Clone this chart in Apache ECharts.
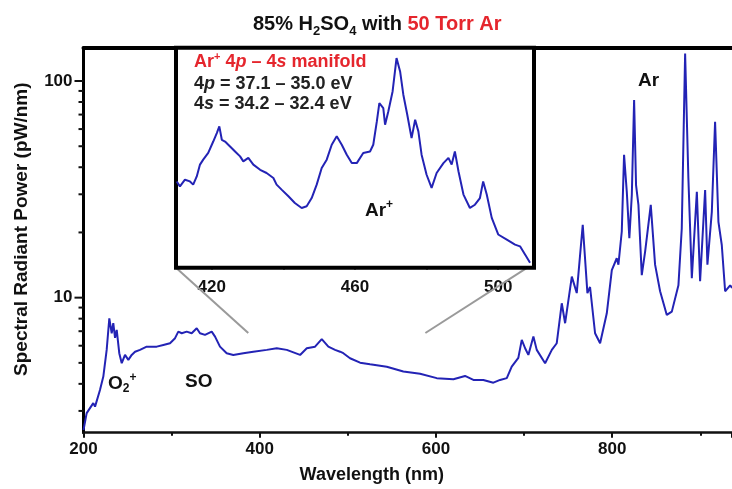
<!DOCTYPE html>
<html><head><meta charset="utf-8">
<script src="https://cdn.jsdelivr.net/npm/echarts@6/dist/echarts.min.js"></script>
<style>html,body{margin:0;padding:0;background:#fff}#c{width:732px;height:489px}</style>
</head><body><div id="c"></div>
<script>
// ---- data ----
const wavelength = [200,203.6,211.1,213.1,218.7,222.5,226.3,229.3,232.0,233.8,235.8,237.7,240.6,243.4,247.1,250.9,254.7,258.5,264.1,271.7,283.1,290.6,298.2,303.9,307.6,311.5,317.1,322.8,328.5,332.2,337.9,345.5,349.3,354.9,362.5,370.0,381.4,392.7,408.0,419.3,430.7,445.8,453.4,462.8,470.4,477.9,485.5,491.2,494.9,502.5,513.9,525.2,544.2,563.0,582.0,600.9,619.8,633.0,642.5,653.8,665.2,672.8,680.4,686.0,687.9,693.5,697.4,701.2,704.9,710.6,714.4,723.9,731.5,737.1,742.8,746.6,754.2,759.8,766.6,771.9,774.9,780.6,786.3,793.9,799.6,805.2,807.1,810.9,813.5,816.6,819.5,822.3,824.9,827.1,829.8,833.6,837.4,843.8,848.7,854.4,862.0,867.7,875.2,879.0,882.8,886.5,890.4,896.1,899.8,905.5,908.1,913.1,916.8,920.6,924.4,928.2,933.9,936.1];
const power = [2.45,2.93,3.26,3.14,3.75,4.32,5.74,8.03,6.85,7.62,6.52,7.10,5.54,4.98,5.44,5.16,5.44,5.63,5.74,5.94,5.94,6.05,6.16,6.50,6.97,6.85,6.97,6.85,7.22,6.85,6.73,6.97,6.61,5.94,5.54,5.44,5.54,5.63,5.74,5.84,5.74,5.44,5.84,5.94,6.43,5.94,5.74,5.63,5.54,5.25,5.01,4.93,4.80,4.56,4.45,4.25,4.20,4.35,4.17,4.17,4.05,4.17,4.25,4.80,4.89,5.27,6.38,5.84,5.44,6.61,5.74,4.98,5.74,6.16,9.42,7.62,12.5,10.5,21.7,10.5,11.2,6.85,6.16,8.47,13.4,15.2,14.2,20.2,45.6,30.8,18.8,29.8,81.7,33.1,26.8,12.7,16.3,26.8,14.2,10.7,8.32,8.62,11.4,20.9,134,35.6,12.3,30.8,11.9,31.4,14.2,24.9,64.9,22.4,17.5,10.7,11.4,11.1];

const insetWavelength = [410.2,411.1,412.5,413.9,414.8,415.8,416.7,417.6,419.0,420.4,421.4,422.1,422.8,423.7,425.1,426.5,427.9,428.8,430.2,431.6,433.5,435.3,437.2,438.1,439.5,441.4,443.2,445.1,446.5,447.9,449.3,450.7,452.1,453.5,454.9,456.3,457.7,459.1,460.5,462.3,464.2,465.1,466.1,466.8,467.9,468.4,469.3,470.5,471.6,472.6,473.5,474.6,475.8,476.8,477.7,478.6,480.0,481.4,482.8,484.7,486.1,487.0,487.9,488.9,490.3,492.1,493.5,494.9,495.8,496.8,498.2,500.0,502.4,504.7,506.1,507.5,508.9];
const insetIntensity = [39.0,36.7,39.8,39.0,37.5,41.3,46.8,49.1,52.2,57.5,61.4,64.5,58.3,57.5,55.2,52.9,50.6,48.3,49.9,46.8,44.4,42.9,40.6,37.5,35.2,32.1,29.0,26.7,27.5,31.3,37.5,45.2,49.1,56.0,59.9,56.0,51.4,47.5,47.5,52.2,52.9,56.0,66.8,75.3,73.0,65.3,71.4,80.7,96.2,90.0,79.2,69.9,59.1,67.6,62.2,51.4,42.1,36.0,42.9,47.5,49.9,46.8,52.9,43.7,32.9,26.7,28.2,31.3,39.0,32.9,22.1,14.4,12.0,9.7,8.9,5.1,1.3];

const xTickValues = [200, 400, 600, 800];
const yMajorTicks = [10, 100];
const yMinorTicks = [3,4,5,6,7,8,9,20,30,40,50,60,70,80,90];
const insetTickLabels = [420, 460, 500];

// ---- chart ----
const FONT = 'Liberation Sans, Arial, sans-serif';
const BLUE = '#2323b5';
const RED = '#e5262d';
const chart = echarts.init(document.getElementById('c'));

const mainData = wavelength.map((w, i) => [w, power[i]]);
const insetData = insetWavelength.map((w, i) => [w, insetIntensity[i]]);

chart.setOption({
  animation: false,
  backgroundColor: '#fff',
  title: {
    left: 248, top: 9,
    text: '{b|85% H}{s|2}{b|SO}{s|4}{b| with }{r|50 Torr Ar}',
    textStyle: {
      rich: {
        b: {fontFamily: FONT, fontWeight: 'bold', fontSize: 20, color: '#111', lineHeight: 24, verticalAlign: 'top'},
        s: {fontFamily: FONT, fontWeight: 'bold', fontSize: 13, color: '#111', lineHeight: 24, verticalAlign: 'bottom'},
        r: {fontFamily: FONT, fontWeight: 'bold', fontSize: 20, color: RED, lineHeight: 24, verticalAlign: 'top'}
      }
    }
  },
  grid: [
    {left: 83.5, right: 0, top: 47.7, bottom: 56.3},
    {left: 176, top: 47.7, width: 358, height: 220, show: true, borderColor: '#000', borderWidth: 4, backgroundColor: '#fff', z: 5}
  ],
  xAxis: [
    {
      type: 'value', gridIndex: 0, min: 200, max: 936, interval: 200,
      name: 'Wavelength (nm)', nameLocation: 'middle', nameGap: 33,
      nameTextStyle: {fontFamily: FONT, fontWeight: 'bold', fontSize: 18, color: '#111', padding: [0, 72, 0, 0]},
      axisLine: {show: true, lineStyle: {color: '#111', width: 2.5}},
      axisTick: {show: true, length: 5, lineStyle: {color: '#111', width: 2}},
      minorTick: {show: true, splitNumber: 2, length: 3, lineStyle: {color: '#111', width: 2}},
      splitLine: {show: false},
      axisLabel: {
        fontFamily: FONT, fontWeight: 'bold', fontSize: 17, color: '#111', margin: 8,
        showMaxLabel: false,
        formatter: v => xTickValues.includes(Math.round(v)) ? String(Math.round(v)) : ''
      }
    },
    {
      type: 'value', gridIndex: 0, position: 'top', min: 200, max: 936,
      axisLine: {show: true, onZero: false, lineStyle: {color: '#000', width: 4}},
      axisTick: {show: false}, axisLabel: {show: false}, splitLine: {show: false}
    },
    {
      type: 'value', gridIndex: 1, min: 410, max: 510, splitNumber: 5,
      axisLine: {show: false},
      axisTick: {show: true, length: 4, lineStyle: {color: '#000', width: 2}},
      splitLine: {show: false},
      axisLabel: {
        fontFamily: FONT, fontWeight: 'bold', fontSize: 17, color: '#111', margin: 11,
        showMinLabel: false, showMaxLabel: false,
        formatter: v => insetTickLabels.includes(Math.round(v)) ? String(Math.round(v)) : ''
      }
    }
  ],
  yAxis: [
    {
      type: 'log', gridIndex: 0, logBase: 10, min: 2.38, max: 142.5,
      name: 'Spectral Radiant Power (pW/nm)', nameLocation: 'middle', nameGap: 52,
      nameTextStyle: {fontFamily: FONT, fontWeight: 'bold', fontSize: 19, color: '#111', padding: [0, 0, 0, 22]},
      axisLine: {show: true, lineStyle: {color: '#000', width: 3}},
      axisTick: {show: false},
      splitLine: {show: false},
      axisLabel: {
        fontFamily: FONT, fontWeight: 'bold', fontSize: 17, color: '#111', margin: 11,
        showMinLabel: false, showMaxLabel: false,
        formatter: v => {
          const r = Math.round(v);
          return (yMajorTicks.includes(r) && Math.abs(v - r) < 0.01 * r) ? String(r) : '';
        }
      }
    },
    {type: 'value', gridIndex: 1, min: -1, max: 101, show: false}
  ],
  series: [
    {
      type: 'line', xAxisIndex: 0, yAxisIndex: 0, data: mainData,
      showSymbol: false, symbol: 'none', lineStyle: {color: BLUE, width: 2}, z: 3
    },
    {
      type: 'line', xAxisIndex: 2, yAxisIndex: 1, data: insetData,
      showSymbol: false, symbol: 'none', lineStyle: {color: BLUE, width: 2}, z: 6
    }
  ]
});

// ---- ticks, connector lines and annotations positioned through the axes ----
const axisX = chart.convertToPixel({xAxisIndex: 0}, 200);
const g = [];
yMajorTicks.forEach(v => {
  const y = chart.convertToPixel({yAxisIndex: 0}, v);
  g.push({type: 'line', shape: {x1: axisX - 9, y1: y, x2: axisX, y2: y}, style: {stroke: '#111', lineWidth: 2}, z: 10});
});
yMinorTicks.forEach(v => {
  const y = chart.convertToPixel({yAxisIndex: 0}, v);
  g.push({type: 'line', shape: {x1: axisX - 5, y1: y, x2: axisX, y2: y}, style: {stroke: '#111', lineWidth: 2}, z: 10});
});

// connector lines from the inset frame to the main curve region
const cornerL = chart.convertToPixel({xAxisIndex: 2, yAxisIndex: 1}, [410, -1]);
const cornerR = chart.convertToPixel({xAxisIndex: 2, yAxisIndex: 1}, [509, 0]);
const endL = chart.convertToPixel({xAxisIndex: 0, yAxisIndex: 0}, [387, 6.87]);
const endR = chart.convertToPixel({xAxisIndex: 0, yAxisIndex: 0}, [588, 6.87]);
g.push({type: 'line', shape: {x1: cornerL[0], y1: cornerL[1], x2: endL[0], y2: endL[1]}, style: {stroke: '#9a9a9a', lineWidth: 2}, z: 1});
g.push({type: 'line', shape: {x1: cornerR[0], y1: cornerR[1], x2: endR[0], y2: endR[1]}, style: {stroke: '#9a9a9a', lineWidth: 2}, z: 1});

const T = (t, x, y, rich, z) => ({type: 'text', left: x, top: y, z: z || 20, style: {text: t, rich: rich}});
const base = (size, color) => ({fontFamily: FONT, fontWeight: 'bold', fontSize: size, fill: color, lineHeight: size + 4, verticalAlign: 'middle'});
const annRich = {
  n: base(19, '#111'),
  sub: Object.assign(base(12, '#111'), {verticalAlign: 'bottom'}),
  sup: Object.assign(base(12, '#111'), {verticalAlign: 'top'})
};
g.push(T('{n|O}{sub|2}{sup|+}', 108, 372, annRich));
g.push(T('{n|SO}', 185, 372, annRich));
g.push(T('{n|Ar}', 638, 71, annRich));
g.push(T('{n|Ar}{sup|+}', 365, 199, annRich));

const insetRich = {
  r: base(18, RED),
  ri: Object.assign(base(18, RED), {fontStyle: 'italic'}),
  rs: Object.assign(base(11, RED), {verticalAlign: 'top'}),
  k: base(18, '#222'),
  ki: Object.assign(base(18, '#222'), {fontStyle: 'italic'})
};
g.push(T('{r|Ar}{rs|+}{r| 4}{ri|p}{r| – 4}{ri|s}{r| manifold}', 194, 51, insetRich));
g.push(T('{k|4}{ki|p}{k| = 37.1 – 35.0 eV}', 194, 75, insetRich));
g.push(T('{k|4}{ki|s}{k| = 34.2 – 32.4 eV}', 194, 95, insetRich));

chart.setOption({graphic: g});
</script>
</body></html>
